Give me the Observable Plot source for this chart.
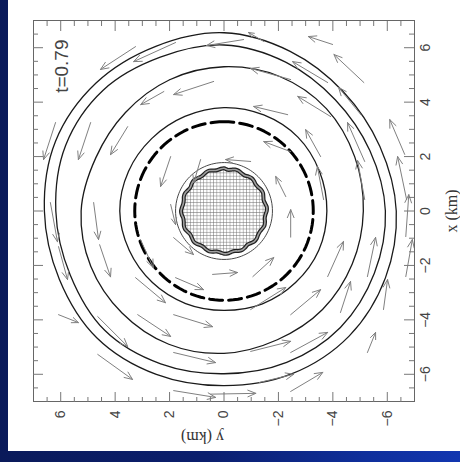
<!DOCTYPE html>
<html>
<head>
<meta charset="utf-8">
<script src="https://cdn.jsdelivr.net/npm/d3@7"></script>
<script src="https://cdn.jsdelivr.net/npm/@observablehq/plot@0.6"></script>
<style>
  html, body { margin: 0; padding: 0; }
  #page { position: relative; width: 460px; height: 462px; overflow: hidden;
    background: linear-gradient(to right, #0a1a5a 0%, #0b1f6e 45%, #0f2f9c 80%, #1236b0 100%); }
  #panel { position: absolute; left: 8px; top: 0; width: 452px; height: 451px; background: #fff; }
  #chart { position: absolute; left: 8px; top: 0; width: 451px; height: 452px;
    transform-origin: 0 0; transform: translate(0px, 451px) rotate(-90deg); }
</style>
</head>
<body>
<div id="page"><div id="panel"></div><div id="chart"></div></div>
<script>
// ---- data (km) ----
const contourAngles = [0, 22.5, 45, 67.5, 90, 112.5, 135, 157.5, 180, 202.5, 225, 247.5, 270, 292.5, 315, 337.5];
const contour1 = [6.55, 6.55, 6.65, 6.7, 6.6, 6.55, 6.6, 6.5, 6.42, 6.48, 6.5, 6.42, 6.33, 6.2, 6.2, 6.35];
const contour2 = [6.1, 6.12, 6.28, 6.3, 6.18, 6.12, 6.2, 6.08, 5.98, 6.02, 6.05, 5.98, 5.93, 5.8, 5.78, 5.92];
const contour3 = [5.3, 5.22, 5.12, 5.1, 5.25, 5.3, 5.3, 5.3, 5.23, 5.12, 5.12, 5.1, 5.12, 5.2, 5.32, 5.35];
const contour4 = [3.8, 3.76, 3.76, 3.8, 3.83, 3.77, 3.72, 3.68, 3.65, 3.69, 3.72, 3.77, 3.78, 3.8, 3.84, 3.82];
const dashedRadius = 3.28;
const thinRadius = 1.78;
const diskAngles = [0,5,10,15,20,25,30,35,40,45,50,55,60,65,70,75,80,85,90,95,100,105,110,115,120,125,130,135,140,145,150,155,160,165,170,175,
  180,185,190,195,200,205,210,215,220,225,230,235,240,245,250,255,260,265,270,275,280,285,290,295,300,305,310,315,320,325,330,335,340,345,350,355];
const diskRadius = [1.57,1.55,1.52,1.54,1.58,1.57,1.53,1.52,1.56,1.58,1.55,1.51,1.53,1.57,1.57,1.53,1.52,1.55,1.58,1.56,1.52,1.53,1.57,1.58,1.54,1.51,1.54,1.58,1.57,1.53,1.52,1.56,1.58,1.55,1.51,1.53,
  1.57,1.57,1.53,1.52,1.56,1.58,1.55,1.51,1.54,1.58,1.57,1.53,1.52,1.55,1.58,1.56,1.52,1.53,1.57,1.58,1.54,1.51,1.54,1.58,1.57,1.53,1.52,1.56,1.58,1.55,1.51,1.53,1.57,1.58,1.54,1.52];
// velocity arrows: [x tail, y tail, x head, y head]
const arrows = [
  [6.04, 3.25, 5.20, 4.54], [6.19, 1.78, 5.49, 3.32], [6.30, -0.72, 6.08, 0.64], [6.23, -1.46, 6.56, -0.90],
  [6.12, -3.99, 6.41, -3.10], [4.72, -5.14, 5.75, -4.04], [4.76, 0.38, 4.28, 1.85], [4.83, -2.45, 5.24, -0.98],
  [4.72, -3.81, 5.49, -2.52], [3.47, -3.92, 4.21, -2.71], [3.54, -5.03, 4.54, -4.21], [3.54, -2.34, 3.84, -1.09],
  [2.18, -2.45, 2.55, -1.46], [2.00, -3.55, 2.99, -3.00], [1.82, -5.17, 3.25, -4.54], [2.08, -6.64, 3.36, -6.09],
  [0.42, -6.71, 2.00, -6.38], [0.53, -2.27, 1.27, -1.90], [0.42, -3.66, 1.63, -3.43], [0.42, -5.17, 1.85, -4.91],
  [3.10, 3.54, 2.07, 4.17], [3.25, 4.90, 1.89, 5.35], [3.25, 6.19, 1.89, 6.63], [2.00, 1.96, 0.90, 2.33],
  [4.39, 2.21, 3.91, 3.06], [1.89, 0.86, 1.04, 1.11], [0.31, 4.79, -1.05, 4.61], [-1.24, 4.57, -2.42, 4.17],
  [0.31, 6.38, -1.13, 6.12], [-1.31, 6.08, -2.52, 5.75], [-3.81, 6.08, -4.10, 5.35], [-3.88, 4.64, -4.98, 3.54],
  [-5.27, 4.64, -6.19, 3.36], [-3.81, 3.17, -4.61, 1.96], [-2.45, 3.25, -3.37, 2.15], [-0.98, 1.85, -1.60, 1.12],
  [-2.45, 1.78, -2.89, 0.75], [-3.81, 1.85, -4.25, 0.42], [-5.20, 1.85, -5.57, 0.31], [-1.05, 3.07, -2.08, 2.60],
  [-6.60, 1.85, -6.85, 0.31], [-2.33, 0.42, -2.26, -0.50], [-0.96, -2.45, 0.05, -2.45], [-2.41, -1.06, -1.71, -1.83],
  [-2.41, -3.81, -1.12, -4.39], [-3.81, -2.45, -2.89, -3.55], [-3.62, -0.98, -2.81, -2.27], [-2.41, -5.27, -0.97, -5.57],
  [-3.73, -4.28, -2.59, -4.65], [-3.62, -5.86, -2.52, -6.01], [-5.20, -5.27, -4.46, -5.57], [-5.20, -2.45, -4.46, -3.81],
  [-5.16, -0.98, -4.79, -2.45], [-6.63, -2.45, -5.93, -3.63], [-6.30, -1.30, -6.00, -2.56], [-0.94, -6.68, 0.60, -6.79],
  [-2.41, -6.68, -1.05, -6.92], [1.82, -0.98, 1.89, -0.06], [0.24, 1.96, -0.50, 1.78], [-6.73, 0.49, -6.70, -1.17]
];
const majorTicks = [-6, -4, -2, 0, 2, 4, 6];
const minorTicks = [-6.5, -5.5, -5, -4.5, -3.5, -3, -2.5, -1.5, -1, -0.5, 0.5, 1, 1.5, 2.5, 3, 3.5, 4.5, 5, 5.5, 6.5];
const timeLabel = "t=0.79";
const xLabel = "x (km)";
const yLabel = "y (km)";

// ---- derived geometry ----
const rad = Math.PI / 180;
const contourPts = [contour1, contour2, contour3, contour4].flatMap((rs, k) =>
  rs.map((r, i) => ({id: k, x: r * Math.cos(contourAngles[i] * rad), y: r * Math.sin(contourAngles[i] * rad)})));
const circleAngles = d3.range(0, 360, 3);
const circlePts = (r) => circleAngles.map(a => ({x: r * Math.cos(a * rad), y: r * Math.sin(a * rad)}));
const diskPts = diskRadius.map((r, i) => ({x: r * Math.cos(diskAngles[i] * rad), y: r * Math.sin(diskAngles[i] * rad)}));

const FRAME = 381;
const tickCol = "#777";
const fmt = d => d < 0 ? "\u2212" + Math.abs(d) : String(d);

const chart = Plot.plot({
  width: 451, height: 452,
  marginLeft: 49, marginRight: 21, marginTop: 25, marginBottom: 46,
  x: {domain: [-7, 7]},
  y: {domain: [-7, 7]},
  style: {fontFamily: "'Liberation Sans', Arial, sans-serif", fontSize: "14px", color: "#444", background: "transparent", overflow: "visible"},
  marks: [
    Plot.line(diskPts, {x: "x", y: "y", curve: "catmull-rom-closed", fill: "url(#cellgrid)", stroke: "none"}),
    Plot.line(diskPts, {x: "x", y: "y", curve: "catmull-rom-closed", stroke: "#202020", strokeWidth: 4}),
    Plot.line(diskPts, {x: "x", y: "y", curve: "catmull-rom-closed", stroke: "#a0a0a0", strokeWidth: 1.6}),
    Plot.line(circlePts(thinRadius), {x: "x", y: "y", curve: "linear-closed", stroke: "#333", strokeWidth: 0.9}),
    Plot.line(contourPts, {x: "x", y: "y", z: "id", curve: "catmull-rom-closed", stroke: "#1a1a1a", strokeWidth: 1.3}),
    Plot.line(circlePts(dashedRadius), {x: "x", y: "y", curve: "linear-closed", stroke: "#000", strokeWidth: 3, strokeDasharray: "13,6"}),
    Plot.arrow(arrows, {x1: d => d[0], y1: d => d[1], x2: d => d[2], y2: d => d[3], stroke: "#808080", strokeWidth: 1, headLength: 13, headAngle: 45}),
    Plot.frame({stroke: "#666"}),
    Plot.ruleX(minorTicks, {x: d => d, stroke: tickCol, insetTop: FRAME - 5}),
    Plot.ruleX(minorTicks, {x: d => d, stroke: tickCol, insetBottom: FRAME - 5}),
    Plot.ruleY(minorTicks, {y: d => d, stroke: tickCol, insetRight: FRAME - 5}),
    Plot.ruleY(minorTicks, {y: d => d, stroke: tickCol, insetLeft: FRAME - 5}),
    Plot.ruleX(majorTicks, {x: d => d, stroke: tickCol, insetTop: FRAME - 10}),
    Plot.ruleX(majorTicks, {x: d => d, stroke: tickCol, insetBottom: FRAME - 10}),
    Plot.ruleY(majorTicks, {y: d => d, stroke: tickCol, insetRight: FRAME - 10}),
    Plot.ruleY(majorTicks, {y: d => d, stroke: tickCol, insetLeft: FRAME - 10}),
    Plot.axisX({ticks: majorTicks, tickSize: 0, tickPadding: 6, tickFormat: fmt, label: null, fontSize: 14}),
    Plot.axisY({ticks: majorTicks, tickSize: 0, tickPadding: 9, tickFormat: fmt, label: null, fontSize: 14}),
    Plot.text([xLabel], {frameAnchor: "bottom", dy: 37, lineAnchor: "middle", fontSize: 16, fontFamily: "'Liberation Serif', 'Times New Roman', serif", fill: "#333"}),
    Plot.text([yLabel], {frameAnchor: "left", dx: -36, rotate: -90, lineAnchor: "middle", fontSize: 16, fontFamily: "'Liberation Serif', 'Times New Roman', serif", fill: "#333"}),
    Plot.text([timeLabel], {frameAnchor: "top-right", dx: -19, dy: 28, textAnchor: "end", lineAnchor: "middle", fontSize: 19, fill: "#444"})
  ]
});

// fine cell grid pattern for the disk
const defs = d3.select(chart).insert("defs", ":first-child");
const pat = defs.append("pattern").attr("id", "cellgrid").attr("patternUnits", "userSpaceOnUse")
  .attr("width", 3.3).attr("height", 3.3);
pat.append("rect").attr("width", 3.3).attr("height", 3.3).attr("fill", "#fff");
pat.append("path").attr("d", "M0,0H3.3M0,0V3.3").attr("stroke", "#666").attr("stroke-width", 0.9).attr("fill", "none");

document.getElementById("chart").appendChild(chart);
</script>
</body>
</html>
